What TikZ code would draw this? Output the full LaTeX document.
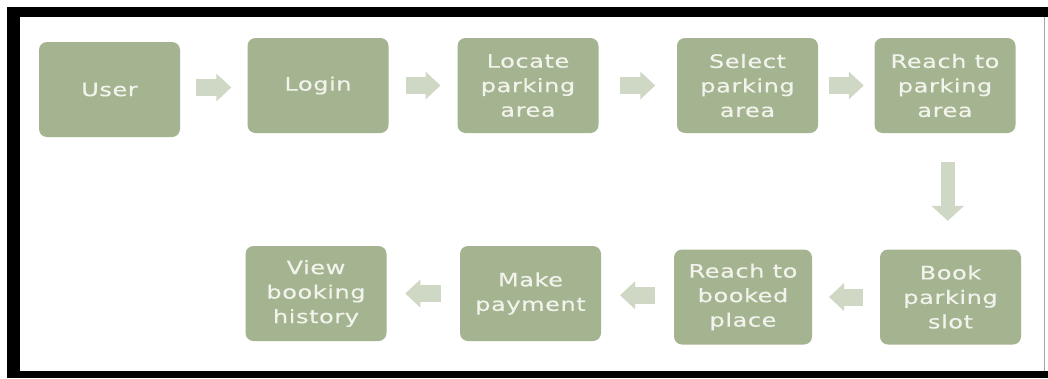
\documentclass[tikz,border=0pt]{standalone}
\usepackage{fontspec}
\usetikzlibrary{arrows.meta,calc}
\newfontfamily\stepfont[FakeStretch=1.3,LetterSpace=3,FakeBold=0.4]{DejaVu Sans}
\definecolor{sage}{HTML}{A5B490}
\definecolor{paleSage}{HTML}{CFD8C5}
\definecolor{boxText}{HTML}{F2F3EC}
\begin{document}
\begin{tikzpicture}[x=1pt,y=-1pt,
  stepbox/.style={fill=sage, rounded corners=8pt, minimum width=141pt,
    minimum height=95pt, inner sep=0pt, align=center, text=boxText,
    font=\stepfont\fontsize{18.5}{24.5}\selectfont},
  flow/.style={paleSage, line width=17pt, -{Triangle[width=27pt,length=15pt]}}]
\useasboundingbox (0,0) rectangle (1048,378);
% page and frame
\fill[white] (0,0) rectangle (1048,378);
\fill[black] (7,7) rectangle (1048,378);
\fill[white] (20,17) rectangle (1048,371);
\draw[gray!70, line width=1.5pt] (1044.5,17) -- (1044.5,371);

% top row
\node[stepbox] (user)    at (109.5,89.5) {User};
\node[stepbox] (login)   at (318,85.5)   {Login};
\node[stepbox] (locate)  at (528,85.5)   {Locate\\parking\\area};
\node[stepbox] (select)  at (747.5,85.5) {Select\\parking\\area};
\node[stepbox] (reachP)  at (945,85.5)   {Reach to\\parking\\area};
% bottom row
\node[stepbox] (book)    at (950.5,297)  {Book\\parking\\slot};
\node[stepbox, minimum width=138pt] (reachB) at (743,297) {Reach to\\booked\\place};
\node[stepbox] (pay)     at (530.5,293.5) {Make\\payment};
\node[stepbox] (history) at (316,293.5)  {View\\booking\\history};

% midpoints between neighbouring steps
\coordinate (m1) at ($(user.east)!0.5!(login.west)$);
\coordinate (m2) at ($(login.east)!0.5!(locate.west)$);
\coordinate (m3) at ($(locate.east)!0.5!(select.west)$);
\coordinate (m4) at ($(select.east)!0.5!(reachP.west)$);
\coordinate (m5) at ($(reachP.south)!0.5!(book.north)$);
\coordinate (m6) at ($(book.west)!0.5!(reachB.east)$);
\coordinate (m7) at ($(reachB.west)!0.5!(pay.east)$);
\coordinate (m8) at ($(pay.west)!0.5!(history.east)$);

% block arrows
\draw[flow] ([xshift=-17.5pt]m1) -- ([xshift=17.5pt]m1);
\draw[flow] ([xshift=-17.5pt]m2) -- ([xshift=17.5pt]m2);
\draw[flow] ([xshift=-17.5pt]m3) -- ([xshift=17.5pt]m3);
\draw[flow] ([xshift=-17.5pt]m4) -- ([xshift=17.5pt]m4);
\draw[paleSage, line width=14pt, -{Triangle[width=32pt,length=15pt]}]
  ([yshift=29.5pt]m5) -- ([yshift=-29.5pt]m5);
\draw[flow] ([xshift=17pt]m6) -- ([xshift=-17pt]m6);
\draw[flow] ([xshift=17.5pt]m7) -- ([xshift=-17.5pt]m7);
\draw[flow] ([xshift=18pt]m8) -- ([xshift=-18pt]m8);
\end{tikzpicture}
\end{document}
